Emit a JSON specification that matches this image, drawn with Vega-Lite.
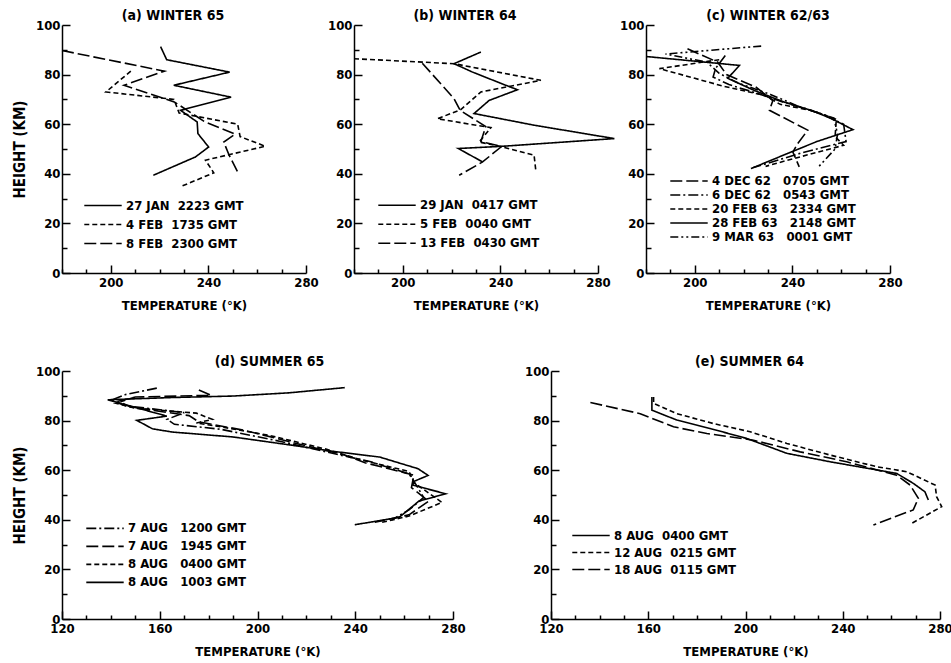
{
  "$schema": "https://vega.github.io/schema/vega-lite/v6.json",
  "background": "white",
  "padding": {"left": 12, "top": 8, "right": 5, "bottom": 0},
  "config": {
    "font": "DejaVu Sans Condensed, Liberation Sans Narrow, sans-serif",
    "view": {"stroke": null},
    "axis": {"grid": false, "domainColor": "black", "domainWidth": 1.5, "tickColor": "black", "tickWidth": 1.5, "labelColor": "black", "labelFontSize": 13, "labelFontWeight": "bold", "titleColor": "black", "titleFontSize": 13, "titleFontWeight": "bold", "labelFlush": false, "labelOverlap": false},
    "axisX": {"tickSize": {"condition": {"test": "datum.value % 40 === 0", "value": -8}, "value": -4}, "labelPadding": 11, "titlePadding": 6, "labelExpr": "datum.value % 40 === 0 ? datum.label : ''"},
    "axisY": {"tickSize": {"condition": {"test": "datum.value % 20 === 0", "value": -8}, "value": -5}, "labelPadding": 10, "titlePadding": 8, "titleFontSize": 15, "labelExpr": "datum.value % 20 === 0 ? datum.label : ''"},
    "title": {"fontSize": 14, "fontWeight": "bold", "color": "black", "offset": -3.5},
    "legend": {"orient": "none", "title": null, "symbolType": "stroke", "symbolSize": 1400, "symbolStrokeWidth": 1.6, "symbolStrokeColor": "black", "labelFontSize": 13, "labelFontWeight": "bold", "labelColor": "black", "padding": 0, "rowPadding": 0, "labelOffset": 3}
  },
  "datasets": {
    "a": [
      {"s":"27 JAN\u00a0\u00a02223 GMT","i":0,"t":220.4,"h":91.3},
      {"s":"27 JAN\u00a0\u00a02223 GMT","i":1,"t":222.9,"h":86.0},
      {"s":"27 JAN\u00a0\u00a02223 GMT","i":2,"t":248.7,"h":81.0},
      {"s":"27 JAN\u00a0\u00a02223 GMT","i":3,"t":225.8,"h":75.7},
      {"s":"27 JAN\u00a0\u00a02223 GMT","i":4,"t":249.3,"h":70.9},
      {"s":"27 JAN\u00a0\u00a02223 GMT","i":5,"t":228.6,"h":65.6},
      {"s":"27 JAN\u00a0\u00a02223 GMT","i":6,"t":235.4,"h":60.9},
      {"s":"27 JAN\u00a0\u00a02223 GMT","i":7,"t":235.7,"h":56.2},
      {"s":"27 JAN\u00a0\u00a02223 GMT","i":8,"t":240.1,"h":50.8},
      {"s":"27 JAN\u00a0\u00a02223 GMT","i":9,"t":234.7,"h":46.8},
      {"s":"27 JAN\u00a0\u00a02223 GMT","i":10,"t":217.4,"h":39.4},
      {"s":"\u20074 FEB\u00a0\u00a01735 GMT","i":0,"t":208.2,"h":81.4},
      {"s":"\u20074 FEB\u00a0\u00a01735 GMT","i":1,"t":198.0,"h":73.0},
      {"s":"\u20074 FEB\u00a0\u00a01735 GMT","i":2,"t":225.9,"h":70.0},
      {"s":"\u20074 FEB\u00a0\u00a01735 GMT","i":3,"t":228.0,"h":64.5},
      {"s":"\u20074 FEB\u00a0\u00a01735 GMT","i":4,"t":252.0,"h":60.0},
      {"s":"\u20074 FEB\u00a0\u00a01735 GMT","i":5,"t":253.0,"h":55.0},
      {"s":"\u20074 FEB\u00a0\u00a01735 GMT","i":6,"t":263.3,"h":51.1},
      {"s":"\u20074 FEB\u00a0\u00a01735 GMT","i":7,"t":238.8,"h":45.5},
      {"s":"\u20074 FEB\u00a0\u00a01735 GMT","i":8,"t":242.2,"h":40.4},
      {"s":"\u20074 FEB\u00a0\u00a01735 GMT","i":9,"t":228.3,"h":34.7},
      {"s":"\u20078 FEB\u00a0\u00a02300 GMT","i":0,"t":180.0,"h":89.7},
      {"s":"\u20078 FEB\u00a0\u00a02300 GMT","i":1,"t":222.0,"h":81.4},
      {"s":"\u20078 FEB\u00a0\u00a02300 GMT","i":2,"t":205.4,"h":75.7},
      {"s":"\u20078 FEB\u00a0\u00a02300 GMT","i":3,"t":226.0,"h":69.0},
      {"s":"\u20078 FEB\u00a0\u00a02300 GMT","i":4,"t":238.5,"h":61.0},
      {"s":"\u20078 FEB\u00a0\u00a02300 GMT","i":5,"t":251.0,"h":56.0},
      {"s":"\u20078 FEB\u00a0\u00a02300 GMT","i":6,"t":246.3,"h":52.8},
      {"s":"\u20078 FEB\u00a0\u00a02300 GMT","i":7,"t":248.5,"h":47.5},
      {"s":"\u20078 FEB\u00a0\u00a02300 GMT","i":8,"t":252.2,"h":40.3}
    ],
    "b": [
      {"s":"29 JAN\u00a0\u00a00417 GMT","i":0,"t":232.0,"h":89.1},
      {"s":"29 JAN\u00a0\u00a00417 GMT","i":1,"t":221.0,"h":84.4},
      {"s":"29 JAN\u00a0\u00a00417 GMT","i":2,"t":228.6,"h":81.0},
      {"s":"29 JAN\u00a0\u00a00417 GMT","i":3,"t":242.2,"h":75.7},
      {"s":"29 JAN\u00a0\u00a00417 GMT","i":4,"t":247.0,"h":73.9},
      {"s":"29 JAN\u00a0\u00a00417 GMT","i":5,"t":235.4,"h":69.6},
      {"s":"29 JAN\u00a0\u00a00417 GMT","i":6,"t":229.2,"h":64.3},
      {"s":"29 JAN\u00a0\u00a00417 GMT","i":7,"t":253.8,"h":59.6},
      {"s":"29 JAN\u00a0\u00a00417 GMT","i":8,"t":286.7,"h":54.2},
      {"s":"29 JAN\u00a0\u00a00417 GMT","i":9,"t":240.9,"h":51.1},
      {"s":"29 JAN\u00a0\u00a00417 GMT","i":10,"t":222.7,"h":50.2},
      {"s":"29 JAN\u00a0\u00a00417 GMT","i":11,"t":232.7,"h":44.8},
      {"s":"\u20075 FEB\u00a0\u00a00040 GMT","i":0,"t":180.0,"h":86.4},
      {"s":"\u20075 FEB\u00a0\u00a00040 GMT","i":1,"t":221.0,"h":84.4},
      {"s":"\u20075 FEB\u00a0\u00a00040 GMT","i":2,"t":256.6,"h":77.7},
      {"s":"\u20075 FEB\u00a0\u00a00040 GMT","i":3,"t":232.0,"h":73.0},
      {"s":"\u20075 FEB\u00a0\u00a00040 GMT","i":4,"t":223.8,"h":65.9},
      {"s":"\u20075 FEB\u00a0\u00a00040 GMT","i":5,"t":214.2,"h":62.2},
      {"s":"\u20075 FEB\u00a0\u00a00040 GMT","i":6,"t":236.1,"h":58.6},
      {"s":"\u20075 FEB\u00a0\u00a00040 GMT","i":7,"t":231.3,"h":52.8},
      {"s":"\u20075 FEB\u00a0\u00a00040 GMT","i":8,"t":240.2,"h":51.0},
      {"s":"\u20075 FEB\u00a0\u00a00040 GMT","i":9,"t":253.8,"h":47.5},
      {"s":"\u20075 FEB\u00a0\u00a00040 GMT","i":10,"t":254.5,"h":41.4},
      {"s":"13 FEB\u00a0\u00a00430 GMT","i":0,"t":208.0,"h":84.6},
      {"s":"13 FEB\u00a0\u00a00430 GMT","i":1,"t":221.0,"h":70.3},
      {"s":"13 FEB\u00a0\u00a00430 GMT","i":2,"t":223.5,"h":65.6},
      {"s":"13 FEB\u00a0\u00a00430 GMT","i":3,"t":234.0,"h":59.0},
      {"s":"13 FEB\u00a0\u00a00430 GMT","i":4,"t":232.0,"h":53.0},
      {"s":"13 FEB\u00a0\u00a00430 GMT","i":5,"t":240.5,"h":51.0},
      {"s":"13 FEB\u00a0\u00a00430 GMT","i":6,"t":232.7,"h":44.8},
      {"s":"13 FEB\u00a0\u00a00430 GMT","i":7,"t":223.1,"h":39.4}
    ],
    "c": [
      {"s":"\u20074 DEC 62\u00a0\u00a0\u00a00705 GMT","i":0,"t":197.0,"h":90.4},
      {"s":"\u20074 DEC 62\u00a0\u00a0\u00a00705 GMT","i":1,"t":209.4,"h":85.0},
      {"s":"\u20074 DEC 62\u00a0\u00a0\u00a00705 GMT","i":2,"t":213.0,"h":80.0},
      {"s":"\u20074 DEC 62\u00a0\u00a0\u00a00705 GMT","i":3,"t":225.0,"h":75.0},
      {"s":"\u20074 DEC 62\u00a0\u00a0\u00a00705 GMT","i":4,"t":232.0,"h":69.5},
      {"s":"\u20074 DEC 62\u00a0\u00a0\u00a00705 GMT","i":5,"t":230.6,"h":65.6},
      {"s":"\u20074 DEC 62\u00a0\u00a0\u00a00705 GMT","i":6,"t":246.3,"h":57.6},
      {"s":"\u20074 DEC 62\u00a0\u00a0\u00a00705 GMT","i":7,"t":242.2,"h":52.2},
      {"s":"\u20074 DEC 62\u00a0\u00a0\u00a00705 GMT","i":8,"t":240.2,"h":48.8},
      {"s":"\u20074 DEC 62\u00a0\u00a0\u00a00705 GMT","i":9,"t":242.8,"h":42.8},
      {"s":"\u20076 DEC 62\u00a0\u00a0\u00a00543 GMT","i":0,"t":212.5,"h":87.7},
      {"s":"\u20076 DEC 62\u00a0\u00a0\u00a00543 GMT","i":1,"t":208.5,"h":82.5},
      {"s":"\u20076 DEC 62\u00a0\u00a0\u00a00543 GMT","i":2,"t":207.5,"h":79.0},
      {"s":"\u20076 DEC 62\u00a0\u00a0\u00a00543 GMT","i":3,"t":214.0,"h":76.0},
      {"s":"\u20076 DEC 62\u00a0\u00a0\u00a00543 GMT","i":4,"t":227.0,"h":72.0},
      {"s":"\u20076 DEC 62\u00a0\u00a0\u00a00543 GMT","i":5,"t":236.0,"h":69.0},
      {"s":"\u20076 DEC 62\u00a0\u00a0\u00a00543 GMT","i":6,"t":251.0,"h":64.5},
      {"s":"\u20076 DEC 62\u00a0\u00a0\u00a00543 GMT","i":7,"t":261.0,"h":60.0},
      {"s":"\u20076 DEC 62\u00a0\u00a0\u00a00543 GMT","i":8,"t":262.0,"h":53.0},
      {"s":"\u20076 DEC 62\u00a0\u00a0\u00a00543 GMT","i":9,"t":244.0,"h":48.5},
      {"s":"\u20076 DEC 62\u00a0\u00a0\u00a00543 GMT","i":10,"t":224.0,"h":42.5},
      {"s":"20 FEB 63\u00a0\u00a0\u00a02334 GMT","i":0,"t":210.0,"h":86.0},
      {"s":"20 FEB 63\u00a0\u00a0\u00a02334 GMT","i":1,"t":185.5,"h":82.4},
      {"s":"20 FEB 63\u00a0\u00a0\u00a02334 GMT","i":2,"t":200.0,"h":78.5},
      {"s":"20 FEB 63\u00a0\u00a0\u00a02334 GMT","i":3,"t":211.0,"h":75.5},
      {"s":"20 FEB 63\u00a0\u00a0\u00a02334 GMT","i":4,"t":229.0,"h":71.5},
      {"s":"20 FEB 63\u00a0\u00a0\u00a02334 GMT","i":5,"t":235.0,"h":68.0},
      {"s":"20 FEB 63\u00a0\u00a0\u00a02334 GMT","i":6,"t":248.0,"h":65.5},
      {"s":"20 FEB 63\u00a0\u00a0\u00a02334 GMT","i":7,"t":258.0,"h":62.0},
      {"s":"20 FEB 63\u00a0\u00a0\u00a02334 GMT","i":8,"t":257.5,"h":55.0},
      {"s":"20 FEB 63\u00a0\u00a0\u00a02334 GMT","i":9,"t":261.0,"h":51.5},
      {"s":"20 FEB 63\u00a0\u00a0\u00a02334 GMT","i":10,"t":240.0,"h":46.0},
      {"s":"20 FEB 63\u00a0\u00a0\u00a02334 GMT","i":11,"t":229.0,"h":43.0},
      {"s":"28 FEB 63\u00a0\u00a0\u00a02148 GMT","i":0,"t":180.0,"h":87.3},
      {"s":"28 FEB 63\u00a0\u00a0\u00a02148 GMT","i":1,"t":218.3,"h":83.7},
      {"s":"28 FEB 63\u00a0\u00a0\u00a02148 GMT","i":2,"t":213.5,"h":78.5},
      {"s":"28 FEB 63\u00a0\u00a0\u00a02148 GMT","i":3,"t":224.4,"h":73.6},
      {"s":"28 FEB 63\u00a0\u00a0\u00a02148 GMT","i":4,"t":236.7,"h":68.9},
      {"s":"28 FEB 63\u00a0\u00a0\u00a02148 GMT","i":5,"t":247.7,"h":65.6},
      {"s":"28 FEB 63\u00a0\u00a0\u00a02148 GMT","i":6,"t":255.9,"h":62.3},
      {"s":"28 FEB 63\u00a0\u00a0\u00a02148 GMT","i":7,"t":264.8,"h":57.8},
      {"s":"28 FEB 63\u00a0\u00a0\u00a02148 GMT","i":8,"t":250.0,"h":53.0},
      {"s":"28 FEB 63\u00a0\u00a0\u00a02148 GMT","i":9,"t":239.5,"h":48.8},
      {"s":"28 FEB 63\u00a0\u00a0\u00a02148 GMT","i":10,"t":223.0,"h":42.1},
      {"s":"\u20079 MAR 63\u00a0\u00a0\u00a00001 GMT","i":0,"t":227.2,"h":91.5},
      {"s":"\u20079 MAR 63\u00a0\u00a0\u00a00001 GMT","i":1,"t":188.0,"h":88.3},
      {"s":"\u20079 MAR 63\u00a0\u00a0\u00a00001 GMT","i":2,"t":205.0,"h":85.0},
      {"s":"\u20079 MAR 63\u00a0\u00a0\u00a00001 GMT","i":3,"t":210.0,"h":80.5},
      {"s":"\u20079 MAR 63\u00a0\u00a0\u00a00001 GMT","i":4,"t":218.0,"h":76.5},
      {"s":"\u20079 MAR 63\u00a0\u00a0\u00a00001 GMT","i":5,"t":231.0,"h":72.0},
      {"s":"\u20079 MAR 63\u00a0\u00a0\u00a00001 GMT","i":6,"t":243.0,"h":67.0},
      {"s":"\u20079 MAR 63\u00a0\u00a0\u00a00001 GMT","i":7,"t":257.0,"h":62.5},
      {"s":"\u20079 MAR 63\u00a0\u00a0\u00a00001 GMT","i":8,"t":258.5,"h":56.0},
      {"s":"\u20079 MAR 63\u00a0\u00a0\u00a00001 GMT","i":9,"t":257.5,"h":50.0},
      {"s":"\u20079 MAR 63\u00a0\u00a0\u00a00001 GMT","i":10,"t":250.4,"h":42.5}
    ],
    "d": [
      {"s":"7 AUG\u00a0\u00a0\u00a01200 GMT","i":0,"t":158.8,"h":93.1},
      {"s":"7 AUG\u00a0\u00a0\u00a01200 GMT","i":1,"t":146.0,"h":90.5},
      {"s":"7 AUG\u00a0\u00a0\u00a01200 GMT","i":2,"t":140.0,"h":88.2},
      {"s":"7 AUG\u00a0\u00a0\u00a01200 GMT","i":3,"t":146.0,"h":86.0},
      {"s":"7 AUG\u00a0\u00a0\u00a01200 GMT","i":4,"t":170.0,"h":83.2},
      {"s":"7 AUG\u00a0\u00a0\u00a01200 GMT","i":5,"t":163.0,"h":80.5},
      {"s":"7 AUG\u00a0\u00a0\u00a01200 GMT","i":6,"t":166.0,"h":78.5},
      {"s":"7 AUG\u00a0\u00a0\u00a01200 GMT","i":7,"t":185.0,"h":76.5},
      {"s":"7 AUG\u00a0\u00a0\u00a01200 GMT","i":8,"t":210.0,"h":71.5},
      {"s":"7 AUG\u00a0\u00a0\u00a01200 GMT","i":9,"t":232.0,"h":66.5},
      {"s":"7 AUG\u00a0\u00a0\u00a01200 GMT","i":10,"t":246.0,"h":63.5},
      {"s":"7 AUG\u00a0\u00a0\u00a01200 GMT","i":11,"t":262.0,"h":58.5},
      {"s":"7 AUG\u00a0\u00a0\u00a01200 GMT","i":12,"t":265.0,"h":54.0},
      {"s":"7 AUG\u00a0\u00a0\u00a01200 GMT","i":13,"t":268.0,"h":49.0},
      {"s":"7 AUG\u00a0\u00a0\u00a01200 GMT","i":14,"t":262.0,"h":44.0},
      {"s":"7 AUG\u00a0\u00a0\u00a01200 GMT","i":15,"t":255.0,"h":40.0},
      {"s":"7 AUG\u00a0\u00a0\u00a01945 GMT","i":0,"t":176.0,"h":92.3},
      {"s":"7 AUG\u00a0\u00a0\u00a01945 GMT","i":1,"t":181.0,"h":90.2},
      {"s":"7 AUG\u00a0\u00a0\u00a01945 GMT","i":2,"t":150.0,"h":89.5},
      {"s":"7 AUG\u00a0\u00a0\u00a01945 GMT","i":3,"t":143.0,"h":87.8},
      {"s":"7 AUG\u00a0\u00a0\u00a01945 GMT","i":4,"t":148.0,"h":85.5},
      {"s":"7 AUG\u00a0\u00a0\u00a01945 GMT","i":5,"t":172.0,"h":82.0},
      {"s":"7 AUG\u00a0\u00a0\u00a01945 GMT","i":6,"t":176.0,"h":79.5},
      {"s":"7 AUG\u00a0\u00a0\u00a01945 GMT","i":7,"t":195.0,"h":76.0},
      {"s":"7 AUG\u00a0\u00a0\u00a01945 GMT","i":8,"t":215.0,"h":71.0},
      {"s":"7 AUG\u00a0\u00a0\u00a01945 GMT","i":9,"t":236.0,"h":66.0},
      {"s":"7 AUG\u00a0\u00a0\u00a01945 GMT","i":10,"t":244.0,"h":63.0},
      {"s":"7 AUG\u00a0\u00a0\u00a01945 GMT","i":11,"t":264.0,"h":58.0},
      {"s":"7 AUG\u00a0\u00a0\u00a01945 GMT","i":12,"t":263.0,"h":53.0},
      {"s":"7 AUG\u00a0\u00a0\u00a01945 GMT","i":13,"t":270.0,"h":47.5},
      {"s":"7 AUG\u00a0\u00a0\u00a01945 GMT","i":14,"t":262.0,"h":42.0},
      {"s":"7 AUG\u00a0\u00a0\u00a01945 GMT","i":15,"t":248.0,"h":39.0},
      {"s":"8 AUG\u00a0\u00a0\u00a00400 GMT","i":0,"t":149.0,"h":89.2},
      {"s":"8 AUG\u00a0\u00a0\u00a00400 GMT","i":1,"t":142.0,"h":87.0},
      {"s":"8 AUG\u00a0\u00a0\u00a00400 GMT","i":2,"t":150.0,"h":85.0},
      {"s":"8 AUG\u00a0\u00a0\u00a00400 GMT","i":3,"t":175.0,"h":83.0},
      {"s":"8 AUG\u00a0\u00a0\u00a00400 GMT","i":4,"t":181.5,"h":80.5},
      {"s":"8 AUG\u00a0\u00a0\u00a00400 GMT","i":5,"t":175.0,"h":79.0},
      {"s":"8 AUG\u00a0\u00a0\u00a00400 GMT","i":6,"t":185.0,"h":77.5},
      {"s":"8 AUG\u00a0\u00a0\u00a00400 GMT","i":7,"t":205.0,"h":74.0},
      {"s":"8 AUG\u00a0\u00a0\u00a00400 GMT","i":8,"t":228.0,"h":68.5},
      {"s":"8 AUG\u00a0\u00a0\u00a00400 GMT","i":9,"t":243.0,"h":64.0},
      {"s":"8 AUG\u00a0\u00a0\u00a00400 GMT","i":10,"t":262.0,"h":59.5},
      {"s":"8 AUG\u00a0\u00a0\u00a00400 GMT","i":11,"t":264.0,"h":55.0},
      {"s":"8 AUG\u00a0\u00a0\u00a00400 GMT","i":12,"t":275.5,"h":47.0},
      {"s":"8 AUG\u00a0\u00a0\u00a00400 GMT","i":13,"t":262.0,"h":41.5},
      {"s":"8 AUG\u00a0\u00a0\u00a00400 GMT","i":14,"t":251.0,"h":39.0},
      {"s":"8 AUG\u00a0\u00a0\u00a01003 GMT","i":0,"t":235.7,"h":93.3},
      {"s":"8 AUG\u00a0\u00a0\u00a01003 GMT","i":1,"t":213.0,"h":91.2},
      {"s":"8 AUG\u00a0\u00a0\u00a01003 GMT","i":2,"t":190.0,"h":89.9},
      {"s":"8 AUG\u00a0\u00a0\u00a01003 GMT","i":3,"t":165.0,"h":89.3},
      {"s":"8 AUG\u00a0\u00a0\u00a01003 GMT","i":4,"t":138.7,"h":88.4},
      {"s":"8 AUG\u00a0\u00a0\u00a01003 GMT","i":5,"t":162.9,"h":81.8},
      {"s":"8 AUG\u00a0\u00a0\u00a01003 GMT","i":6,"t":150.6,"h":80.1},
      {"s":"8 AUG\u00a0\u00a0\u00a01003 GMT","i":7,"t":157.0,"h":76.7},
      {"s":"8 AUG\u00a0\u00a0\u00a01003 GMT","i":8,"t":165.0,"h":75.4},
      {"s":"8 AUG\u00a0\u00a0\u00a01003 GMT","i":9,"t":190.0,"h":73.4},
      {"s":"8 AUG\u00a0\u00a0\u00a01003 GMT","i":10,"t":214.6,"h":70.0},
      {"s":"8 AUG\u00a0\u00a0\u00a01003 GMT","i":11,"t":231.0,"h":67.6},
      {"s":"8 AUG\u00a0\u00a0\u00a01003 GMT","i":12,"t":250.0,"h":65.3},
      {"s":"8 AUG\u00a0\u00a0\u00a01003 GMT","i":13,"t":265.7,"h":60.6},
      {"s":"8 AUG\u00a0\u00a0\u00a01003 GMT","i":14,"t":269.8,"h":57.9},
      {"s":"8 AUG\u00a0\u00a0\u00a01003 GMT","i":15,"t":264.3,"h":55.6},
      {"s":"8 AUG\u00a0\u00a0\u00a01003 GMT","i":16,"t":263.5,"h":54.0},
      {"s":"8 AUG\u00a0\u00a0\u00a01003 GMT","i":17,"t":277.0,"h":50.5},
      {"s":"8 AUG\u00a0\u00a0\u00a01003 GMT","i":18,"t":266.0,"h":47.5},
      {"s":"8 AUG\u00a0\u00a0\u00a01003 GMT","i":19,"t":258.0,"h":41.0},
      {"s":"8 AUG\u00a0\u00a0\u00a01003 GMT","i":20,"t":239.8,"h":38.0}
    ],
    "e": [
      {"s":"\u20078 AUG\u00a0\u00a00400 GMT","i":0,"t":161.5,"h":89.5},
      {"s":"\u20078 AUG\u00a0\u00a00400 GMT","i":1,"t":161.5,"h":84.2},
      {"s":"\u20078 AUG\u00a0\u00a00400 GMT","i":2,"t":171.8,"h":80.2},
      {"s":"\u20078 AUG\u00a0\u00a00400 GMT","i":3,"t":185.5,"h":76.8},
      {"s":"\u20078 AUG\u00a0\u00a00400 GMT","i":4,"t":200.5,"h":72.8},
      {"s":"\u20078 AUG\u00a0\u00a00400 GMT","i":5,"t":217.0,"h":66.8},
      {"s":"\u20078 AUG\u00a0\u00a00400 GMT","i":6,"t":234.8,"h":63.4},
      {"s":"\u20078 AUG\u00a0\u00a00400 GMT","i":7,"t":262.2,"h":58.7},
      {"s":"\u20078 AUG\u00a0\u00a00400 GMT","i":8,"t":269.0,"h":54.7},
      {"s":"\u20078 AUG\u00a0\u00a00400 GMT","i":9,"t":273.8,"h":51.3},
      {"s":"\u20078 AUG\u00a0\u00a00400 GMT","i":10,"t":275.2,"h":48.0},
      {"s":"12 AUG\u00a0\u00a00215 GMT","i":0,"t":162.2,"h":89.5},
      {"s":"12 AUG\u00a0\u00a00215 GMT","i":1,"t":162.2,"h":86.9},
      {"s":"12 AUG\u00a0\u00a00215 GMT","i":2,"t":171.8,"h":82.8},
      {"s":"12 AUG\u00a0\u00a00215 GMT","i":3,"t":186.8,"h":78.8},
      {"s":"12 AUG\u00a0\u00a00215 GMT","i":4,"t":201.9,"h":75.5},
      {"s":"12 AUG\u00a0\u00a00215 GMT","i":5,"t":217.0,"h":70.8},
      {"s":"12 AUG\u00a0\u00a00215 GMT","i":6,"t":234.8,"h":66.1},
      {"s":"12 AUG\u00a0\u00a00215 GMT","i":7,"t":254.0,"h":61.4},
      {"s":"12 AUG\u00a0\u00a00215 GMT","i":8,"t":266.3,"h":59.4},
      {"s":"12 AUG\u00a0\u00a00215 GMT","i":9,"t":278.0,"h":54.0},
      {"s":"12 AUG\u00a0\u00a00215 GMT","i":10,"t":278.6,"h":49.3},
      {"s":"12 AUG\u00a0\u00a00215 GMT","i":11,"t":280.7,"h":45.3},
      {"s":"12 AUG\u00a0\u00a00215 GMT","i":12,"t":268.4,"h":38.6},
      {"s":"18 AUG\u00a0\u00a00115 GMT","i":0,"t":136.2,"h":87.3},
      {"s":"18 AUG\u00a0\u00a00115 GMT","i":1,"t":156.7,"h":82.8},
      {"s":"18 AUG\u00a0\u00a00115 GMT","i":2,"t":170.4,"h":77.5},
      {"s":"18 AUG\u00a0\u00a00115 GMT","i":3,"t":184.1,"h":74.8},
      {"s":"18 AUG\u00a0\u00a00115 GMT","i":4,"t":203.3,"h":72.1},
      {"s":"18 AUG\u00a0\u00a00115 GMT","i":5,"t":222.5,"h":67.4},
      {"s":"18 AUG\u00a0\u00a00115 GMT","i":6,"t":241.6,"h":63.4},
      {"s":"18 AUG\u00a0\u00a00115 GMT","i":7,"t":262.2,"h":58.0},
      {"s":"18 AUG\u00a0\u00a00115 GMT","i":8,"t":267.7,"h":54.0},
      {"s":"18 AUG\u00a0\u00a00115 GMT","i":9,"t":271.1,"h":48.7},
      {"s":"18 AUG\u00a0\u00a00115 GMT","i":10,"t":269.0,"h":44.0},
      {"s":"18 AUG\u00a0\u00a00115 GMT","i":11,"t":252.6,"h":37.9}
    ]
  },
  "vconcat": [
    {
      "hconcat": [
        {
          "width": 244, "height": 248,
          "data": {"name": "a"},
          "title": {"text": "(a) WINTER 65", "dx": -11},
          "mark": {"type": "line", "color": "black", "strokeWidth": 1.6},
          "encoding": {
            "x": {"field": "t", "type": "quantitative", "scale": {"domain": [180, 280], "nice": false, "zero": false}, "axis": {"values": [180,190,200,210,220,230,240,250,260,270,280], "title": "TEMPERATURE (°K)"}},
            "y": {"field": "h", "type": "quantitative", "scale": {"domain": [0, 100], "nice": false}, "axis": {"values": [0,10,20,30,40,50,60,70,80,90,100], "title": "HEIGHT (KM)"}},
            "strokeDash": {"field": "s", "type": "nominal", "scale": {"domain": ["27 JAN\u00a0\u00a02223 GMT", "\u20074 FEB\u00a0\u00a01735 GMT", "\u20078 FEB\u00a0\u00a02300 GMT"], "range": [[1, 0], [5, 3], [12, 4]]}, "legend": {"legendX": 21, "legendY": 171, "clipHeight": 19}},
            "order": {"field": "i", "type": "quantitative"}
          }
        },
        {
          "width": 244, "height": 248,
          "data": {"name": "b"},
          "title": {"text": "(b) WINTER 64", "dx": -11},
          "mark": {"type": "line", "color": "black", "strokeWidth": 1.6},
          "encoding": {
            "x": {"field": "t", "type": "quantitative", "scale": {"domain": [180, 280], "nice": false, "zero": false}, "axis": {"values": [180,190,200,210,220,230,240,250,260,270,280], "title": "TEMPERATURE (°K)"}},
            "y": {"field": "h", "type": "quantitative", "scale": {"domain": [0, 100], "nice": false}, "axis": {"values": [0,10,20,30,40,50,60,70,80,90,100], "title": null}},
            "strokeDash": {"field": "s", "type": "nominal", "scale": {"domain": ["29 JAN\u00a0\u00a00417 GMT", "\u20075 FEB\u00a0\u00a00040 GMT", "13 FEB\u00a0\u00a00430 GMT"], "range": [[1, 0], [5, 3], [12, 4]]}, "legend": {"legendX": 23, "legendY": 171, "clipHeight": 18.5}},
            "order": {"field": "i", "type": "quantitative"}
          }
        },
        {
          "width": 244, "height": 248,
          "data": {"name": "c"},
          "title": {"text": "(c) WINTER 62/63"},
          "mark": {"type": "line", "color": "black", "strokeWidth": 1.6},
          "encoding": {
            "x": {"field": "t", "type": "quantitative", "scale": {"domain": [180, 280], "nice": false, "zero": false}, "axis": {"values": [180,190,200,210,220,230,240,250,260,270,280], "title": "TEMPERATURE (°K)"}},
            "y": {"field": "h", "type": "quantitative", "scale": {"domain": [0, 100], "nice": false}, "axis": {"values": [0,10,20,30,40,50,60,70,80,90,100], "title": null}},
            "strokeDash": {"field": "s", "type": "nominal", "scale": {"domain": ["\u20074 DEC 62\u00a0\u00a0\u00a00705 GMT", "\u20076 DEC 62\u00a0\u00a0\u00a00543 GMT", "20 FEB 63\u00a0\u00a0\u00a02334 GMT", "28 FEB 63\u00a0\u00a0\u00a02148 GMT", "\u20079 MAR 63\u00a0\u00a0\u00a00001 GMT"], "range": [[12, 4], [10, 3, 2, 3], [5, 3], [1, 0], [8, 3, 2, 3, 2, 3]]}, "legend": {"legendX": 23, "legendY": 149, "clipHeight": 14}},
            "order": {"field": "i", "type": "quantitative"}
          }
        }
      ],
      "spacing": 48,
      "bounds": "flush",
      "resolve": {"scale": {"x": "independent", "y": "independent", "strokeDash": "independent"}, "legend": {"strokeDash": "independent"}}
    },
    {
      "hconcat": [
        {
          "width": 391, "height": 248,
          "data": {"name": "d"},
          "title": {"text": "(d) SUMMER 65", "dx": 12},
          "mark": {"type": "line", "color": "black", "strokeWidth": 1.6},
          "encoding": {
            "x": {"field": "t", "type": "quantitative", "scale": {"domain": [120, 280], "nice": false, "zero": false}, "axis": {"values": [120,130,140,150,160,170,180,190,200,210,220,230,240,250,260,270,280], "title": "TEMPERATURE (°K)"}},
            "y": {"field": "h", "type": "quantitative", "scale": {"domain": [0, 100], "nice": false}, "axis": {"values": [0,10,20,30,40,50,60,70,80,90,100], "title": "HEIGHT (KM)"}},
            "strokeDash": {"field": "s", "type": "nominal", "scale": {"domain": ["7 AUG\u00a0\u00a0\u00a01200 GMT", "7 AUG\u00a0\u00a0\u00a01945 GMT", "8 AUG\u00a0\u00a0\u00a00400 GMT", "8 AUG\u00a0\u00a0\u00a01003 GMT"], "range": [[10, 3, 2, 3], [12, 4], [5, 3], [1, 0]]}, "legend": {"legendX": 23, "legendY": 148.5, "clipHeight": 17.7}},
            "order": {"field": "i", "type": "quantitative"}
          }
        },
        {
          "width": 389, "height": 248,
          "data": {"name": "e"},
          "title": {"text": "(e) SUMMER 64", "dx": 4},
          "mark": {"type": "line", "color": "black", "strokeWidth": 1.6},
          "encoding": {
            "x": {"field": "t", "type": "quantitative", "scale": {"domain": [120, 280], "nice": false, "zero": false}, "axis": {"values": [120,130,140,150,160,170,180,190,200,210,220,230,240,250,260,270,280], "title": "TEMPERATURE (°K)"}},
            "y": {"field": "h", "type": "quantitative", "scale": {"domain": [0, 100], "nice": false}, "axis": {"values": [0,10,20,30,40,50,60,70,80,90,100], "title": null}},
            "strokeDash": {"field": "s", "type": "nominal", "scale": {"domain": ["\u20078 AUG\u00a0\u00a00400 GMT", "12 AUG\u00a0\u00a00215 GMT", "18 AUG\u00a0\u00a00115 GMT"], "range": [[1, 0], [5, 3], [12, 4]]}, "legend": {"legendX": 20, "legendY": 156, "clipHeight": 17}},
            "order": {"field": "i", "type": "quantitative"}
          }
        }
      ],
      "spacing": 98,
      "bounds": "flush",
      "resolve": {"scale": {"x": "independent", "y": "independent", "strokeDash": "independent"}, "legend": {"strokeDash": "independent"}}
    }
  ],
  "spacing": 42,
  "resolve": {"scale": {"x": "independent", "y": "independent", "strokeDash": "independent"}, "legend": {"strokeDash": "independent"}}
}
